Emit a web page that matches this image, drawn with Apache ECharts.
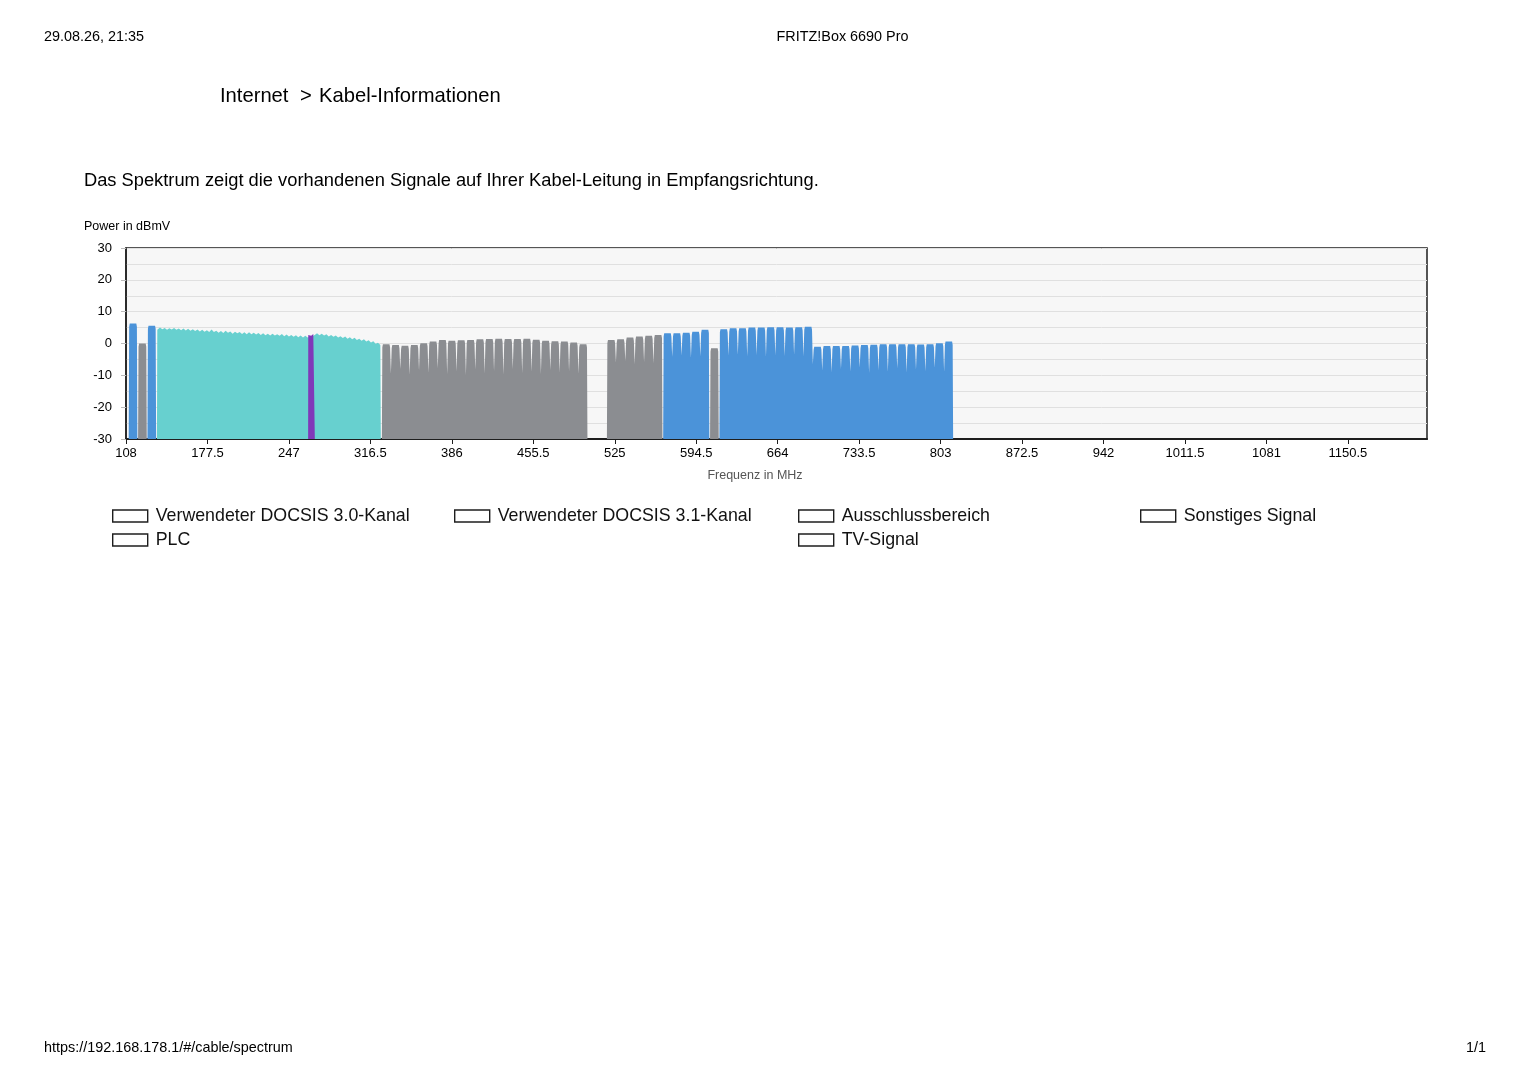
<!DOCTYPE html>
<html>
<head>
<meta charset="utf-8">
<title>Kabel-Informationen</title>
<script src="https://cdn.jsdelivr.net/npm/echarts@6/dist/echarts.min.js"></script>
<style>
  html, body { margin: 0; padding: 0; background: #fff; }
  #spektrum { width: 1529px; height: 1080px; }
</style>
</head>
<body>
<div id="spektrum"></div>
<script>
// Kanalraster 8 MHz
var chWidth = 8;

// Verwendeter DOCSIS 3.0-Kanal: Blockbeginn (MHz), Pegel je Kanal (dBmV), Einbrueche zwischen den Kanaelen
var d30Starts = [110, 126, 566, 614];
var d30Levels = [
	[6.3],
	[5.6],
	[3.2, 3.2, 3.4, 3.7, 4.3],
	[4.5, 4.8, 4.8, 5.0, 5.0, 5.1, 5.1, 5.0, 5.1, 5.3,
	 -1.0, -0.8, -0.8, -0.8, -0.6, -0.5, -0.4, -0.2, -0.2, -0.2, -0.2, -0.3, -0.2, 0.1, 0.6]
];
var d30Dips = [
	[],
	[],
	[-4.2, -3.8, -4.5, -4.0],
	[-3.8, -3.5, -4.0, -3.6, -4.2, -3.7, -3.9, -3.5, -4.0, -6.5,
	 -8.5, -9.0, -8.0, -8.8, -7.5, -9.2, -8.4, -8.9, -7.8, -9.0, -8.2, -8.7, -7.6, -8.9]
];

// Sonstiges Signal
var otherStarts = [118, 326, 518, 606];
var otherLevels = [
	[0.0],
	[-0.2, -0.5, -0.7, -0.5, 0.1, 0.6, 1.1, 0.9, 1.0, 1.1, 1.3, 1.4, 1.5, 1.4, 1.4, 1.5, 1.2, 0.9, 0.7, 0.6, 0.3, -0.2],
	[1.1, 1.3, 1.9, 2.2, 2.4, 2.7],
	[-1.5]
];
var otherDips = [
	[],
	[-9.5, -8.0, -9.8, -8.5, -9.2, -7.8, -9.6, -8.8, -9.9, -8.2, -9.4, -8.6, -9.7, -8.0, -9.3, -8.9, -9.6, -8.3, -9.1, -8.7, -9.5],
	[-6.0, -5.5, -6.5, -5.8, -6.2],
	[]
];

// Verwendeter DOCSIS 3.1-Kanal (OFDM 134 - 326 MHz), [MHz, dBmV]
var ofdmPoints = [
	[134.4, -30], [134.7, 4.3],
	[135, 4.4], [137, 5.0], [139, 4.5], [141, 4.9], [143, 4.3], [145, 4.8], [147, 4.4], [149, 4.9],
	[151, 4.3], [153, 4.7], [155, 4.2], [157, 4.7], [159, 4.1], [161, 4.6], [163, 4.0], [165, 4.5],
	[167, 3.9], [169, 4.4], [171, 3.8], [173, 4.3], [175, 3.7], [177, 4.2], [179, 3.6], [181, 4.4],
	[183, 3.6], [185, 4.0], [187, 3.4], [189, 3.9], [191, 3.3], [193, 4.0], [195, 3.4], [197, 3.8],
	[199, 3.1], [201, 3.7], [203, 3.2], [205, 3.6], [207, 3.0], [209, 3.5], [211, 2.9], [213, 3.5],
	[215, 2.9], [217, 3.4], [219, 2.8], [221, 3.3], [223, 2.7], [225, 3.2], [227, 2.6], [229, 3.1],
	[231, 2.5], [233, 3.1], [235, 2.5], [237, 2.9], [239, 2.4], [241, 3.0], [243, 2.3], [245, 2.8],
	[247, 2.2], [249, 2.7], [251, 2.1], [253, 2.6], [255, 2.0], [257, 2.5], [259, 1.9], [261, 2.4],
	[263, 1.9], [265, 2.2], [267, 2.3], [269, 2.7], [271, 3.2], [273, 2.6], [275, 3.1], [277, 2.5],
	[279, 2.9], [281, 2.2], [283, 2.7], [285, 2.1], [287, 2.5], [289, 1.9], [291, 2.3], [293, 1.7],
	[295, 2.2], [297, 1.5], [299, 2.0], [301, 1.3], [303, 1.8], [305, 1.1], [307, 1.5], [309, 0.9],
	[311, 1.3], [313, 0.6], [315, 1.0], [317, 0.3], [319, 0.7], [321, -0.1], [323, 0.2], [325, -0.5],
	[325.4, -30]
];

// PLC im OFDM-Block
var plcPoints = [
	[263.4, -30], [263.5, 2.7], [264.5, 3.0], [266.0, 2.4], [267.8, 3.0], [269.0, 2.8], [269.1, -30]
];

// Achsen
var xTicks = [108, 177.5, 247, 316.5, 386, 455.5, 525, 594.5, 664, 733.5, 803, 872.5, 942, 1011.5, 1081, 1150.5];
var freqMin = 108, freqMax = 1218;

var legendNames = ['Verwendeter DOCSIS 3.0-Kanal', 'Verwendeter DOCSIS 3.1-Kanal', 'Ausschlussbereich', 'Sonstiges Signal', 'PLC', 'TV-Signal'];

var font = '"Liberation Sans", Arial, Helvetica, sans-serif';

// Kanalform: schmale V-Einbrueche an den Kanalgrenzen
function blockPoints(starts, levels, dips) {
	var pts = [];
	starts.forEach(function (start, b) {
		var lv = levels[b];
		lv.forEach(function (level, i) {
			var s = start + i * chWidth, e = s + chWidth;
			if (i === 0) {
				pts.push([s + 0.3, -30], [s + 0.7, level - 1.0]);
			} else {
				pts.push([s, dips[b][i - 1]], [s + 0.7, level - 1.0]);
			}
			pts.push([s + 1.2, level], [e - 1.2, level]);
			if (i === lv.length - 1) {
				pts.push([e - 0.7, level - 1.0], [e - 0.3, -30]);
			} else {
				pts.push([e - 0.7, level - 1.0]);
			}
		});
	});
	return pts;
}

function areaSeries(name, color, data, z) {
	return {
		name: name,
		type: 'line',
		data: data,
		z: z,
		showSymbol: false,
		symbol: 'none',
		silent: true,
		lineStyle: { width: 0, color: color },
		itemStyle: { color: color },
		areaStyle: { color: color, opacity: 1, origin: 'start' }
	};
}

var legendPos = [[112, 507], [454, 507], [798, 507], [1140, 507], [112, 531], [798, 531]];
var legends = legendNames.map(function (n, i) {
	return {
		data: [n],
		left: legendPos[i][0],
		top: legendPos[i][1],
		padding: 0,
		icon: 'rect',
		itemWidth: 35,
		itemHeight: 12,
		selectedMode: false,
		itemStyle: { color: '#fff', borderColor: '#1e1e1e', borderWidth: 1.4 },
		lineStyle: { width: 0 },
		textStyle: { fontSize: 17.8, color: '#111', fontFamily: font, padding: [0, 0, 0, 3] }
	};
});

function txt(x, y, text, size, align, color) {
	return {
		type: 'text', x: x, y: y, silent: true,
		style: { text: text, fill: color || '#000', font: size + 'px ' + font, align: align || 'left', verticalAlign: 'middle' }
	};
}

var chart = echarts.init(document.getElementById('spektrum'));
var option = {
	animation: false,
	textStyle: { fontFamily: font },
	grid: {
		left: 126, right: 102, top: 248, bottom: 641,
		show: true, backgroundColor: '#f7f7f7', borderColor: '#1e1e1e', borderWidth: 1.5
	},
	legend: legends,
	graphic: [
		txt(44, 37, '29.08.26, 21:35', 14.4),
		txt(842.5, 37, 'FRITZ!Box 6690 Pro', 14.4, 'center'),
		txt(220, 96.5, 'Internet', 20.2),
		txt(300, 96.5, '>', 20.2),
		txt(319, 96.5, 'Kabel-Informationen', 20.2),
		txt(84, 181, 'Das Spektrum zeigt die vorhandenen Signale auf Ihrer Kabel-Leitung in Empfangsrichtung.', 18.3),
		txt(84, 227, 'Power in dBmV', 12.5),
		txt(44, 1048, 'https://192.168.178.1/#/cable/spectrum', 14.4),
		txt(1486, 1048, '1/1', 14.4, 'right')
	],
	xAxis: {
		type: 'value',
		min: freqMin,
		max: freqMax,
		name: 'Frequenz in MHz',
		nameLocation: 'middle',
		nameGap: 30,
		nameTextStyle: { fontSize: 12.5, color: '#555', fontFamily: font, padding: [0, 43, 0, 0] },
		axisLine: { show: true, onZero: false, lineStyle: { color: '#1e1e1e', width: 2 } },
		axisTick: { show: true, length: 5, customValues: xTicks, lineStyle: { color: '#1e1e1e' } },
		axisLabel: {
			customValues: xTicks, fontSize: 13, color: '#000', margin: 8, fontFamily: font,
			formatter: function (v) { return String(v); }
		},
		splitLine: { show: false }
	},
	yAxis: {
		type: 'value',
		min: -30,
		max: 30,
		interval: 10,
		axisLine: { show: true, lineStyle: { color: '#1e1e1e', width: 1.5 } },
		axisTick: { show: true, length: 5, lineStyle: { color: '#bbb' } },
		axisLabel: { fontSize: 13, color: '#000', margin: 14, fontFamily: font, padding: [6, 0, 0, 0] },
		splitLine: { show: true, lineStyle: { color: '#e0e0e0', width: 1 } },
		minorTick: { show: false, splitNumber: 2 },
		minorSplitLine: { show: true, lineStyle: { color: '#e0e0e0', width: 1 } }
	},
	series: [
		areaSeries('Sonstiges Signal', '#8b8d91', blockPoints(otherStarts, otherLevels, otherDips), 2),
		areaSeries('Verwendeter DOCSIS 3.0-Kanal', '#4b93d9', blockPoints(d30Starts, d30Levels, d30Dips), 3),
		areaSeries('Verwendeter DOCSIS 3.1-Kanal', '#67d0cf', ofdmPoints, 3),
		areaSeries('PLC', '#8038b9', plcPoints, 4),
		areaSeries('Ausschlussbereich', '#d9d9d9', [], 1),
		areaSeries('TV-Signal', '#c9a14a', [], 1)
	]
};
chart.setOption(option);
</script>
</body>
</html>
